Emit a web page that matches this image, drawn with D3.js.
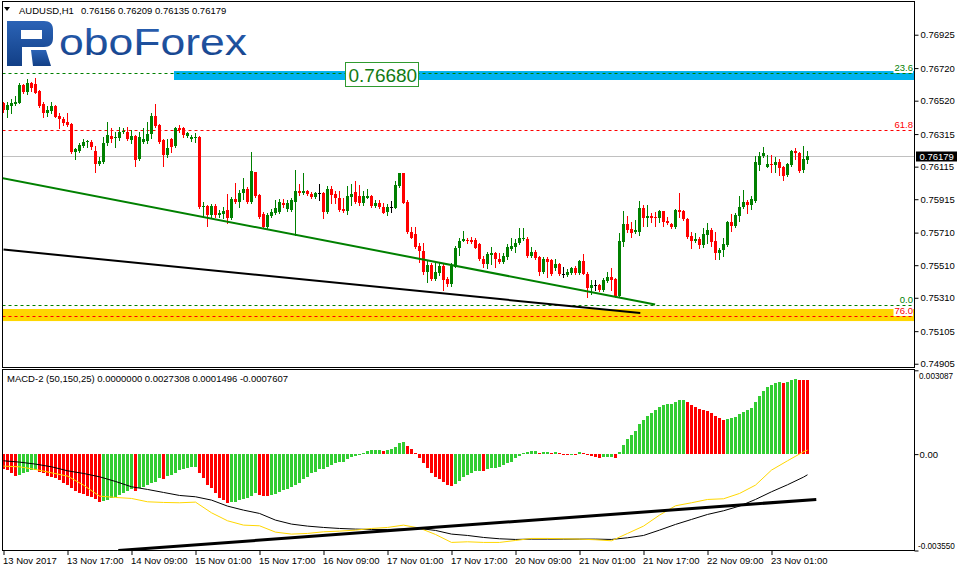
<!DOCTYPE html>
<html>
<head>
<meta charset="utf-8">
<script src="https://cdnjs.cloudflare.com/ajax/libs/d3/7.8.5/d3.min.js"></script>
<style>
  body { margin: 0; background: #fff; }
  svg { display: block; font-family: "Liberation Sans", Arial, sans-serif; }
</style>
</head>
<body>
<svg id="chart" width="957" height="572"></svg>
<script>
/* AUDUSD H1 with MACD-2 sub window */

var symbol = "AUDUSD,H1";

// hourly candles, bar 0 = 13 Nov 2017 00:00
var openP = [
0.76508,0.76463,0.76490,0.76500,0.76508,0.76616,0.76576,0.76627,0.76623,0.76580,
0.76498,0.76447,0.76459,0.76488,0.76426,0.76406,0.76391,0.76375,0.76207,0.76213,
0.76242,0.76266,0.76268,0.76213,0.76131,0.76146,0.76258,0.76303,0.76293,0.76289,
0.76328,0.76330,0.76279,0.76303,0.76160,0.76268,0.76273,0.76316,0.76426,0.76371,
0.76279,0.76187,0.76283,0.76242,0.76350,0.76350,0.76303,0.76283,0.76291,0.76295,
0.75865,0.75873,0.75818,0.75873,0.75818,0.75824,0.75849,0.75802,0.75914,0.75900,
0.75951,0.75978,0.75900,0.76080,0.75941,0.75824,0.75746,0.75812,0.75832,0.75834,
0.75890,0.75853,0.75849,0.75900,0.75965,0.75951,0.75965,0.75947,0.75926,0.75955,
0.75955,0.75838,0.75975,0.75947,0.75920,0.75854,0.75844,0.75930,0.75961,0.75934,
0.75893,0.75924,0.75934,0.75873,0.75893,0.75869,0.75838,0.75865,0.75863,0.75996,
0.76078,0.75899,0.75715,0.75701,0.75627,0.75597,0.75466,0.75511,0.75423,0.75463,
0.75506,0.75423,0.75394,0.75500,0.75613,0.75660,0.75664,0.75664,0.75664,0.75640,
0.75545,0.75517,0.75572,0.75582,0.75551,0.75531,0.75558,0.75609,0.75623,0.75644,
0.75668,0.75670,0.75566,0.75590,0.75562,0.75470,0.75547,0.75541,0.75490,0.75517,
0.75459,0.75449,0.75463,0.75490,0.75463,0.75535,0.75459,0.75367,0.75388,0.75388,
0.75357,0.75414,0.75439,0.75423,0.75320,0.75654,0.75762,0.75732,0.75715,0.75715,
0.75859,0.75801,0.75811,0.75807,0.75801,0.75842,0.75783,0.75762,0.75746,0.75848,
0.75842,0.75793,0.75689,0.75660,0.75670,0.75633,0.75695,0.75726,0.75658,0.75586,
0.75603,0.75633,0.75777,0.75750,0.75811,0.75865,0.75899,0.75879,0.75906,0.76125,
0.76182,0.76114,0.76131,0.76125,0.76145,0.76114,0.76063,0.76125,0.76211,0.76200,
0.76094,0.76156];
var highP = [
0.76514,0.76514,0.76528,0.76549,0.76627,0.76623,0.76651,0.76635,0.76657,0.76586,
0.76514,0.76490,0.76514,0.76494,0.76447,0.76418,0.76442,0.76381,0.76228,0.76258,
0.76283,0.76279,0.76279,0.76242,0.76176,0.76299,0.76391,0.76350,0.76330,0.76361,
0.76350,0.76357,0.76340,0.76309,0.76330,0.76350,0.76391,0.76447,0.76500,0.76377,
0.76283,0.76283,0.76289,0.76361,0.76371,0.76361,0.76330,0.76309,0.76320,0.76303,
0.75900,0.75880,0.75886,0.75886,0.75849,0.75869,0.75945,0.75927,0.76017,0.75972,
0.76043,0.75992,0.76205,0.76084,0.75947,0.75839,0.75828,0.75853,0.75910,0.75914,
0.75914,0.75910,0.75920,0.76094,0.76009,0.76073,0.75971,0.75961,0.75961,0.76008,
0.75961,0.75996,0.75996,0.75967,0.75965,0.75920,0.75996,0.76008,0.76026,0.76002,
0.75965,0.75977,0.75940,0.75910,0.75910,0.75889,0.75883,0.75904,0.76026,0.76078,
0.76078,0.75910,0.75746,0.75746,0.75644,0.75644,0.75541,0.75521,0.75521,0.75531,
0.75517,0.75439,0.75521,0.75627,0.75680,0.75719,0.75678,0.75685,0.75674,0.75644,
0.75566,0.75592,0.75623,0.75592,0.75586,0.75582,0.75640,0.75680,0.75668,0.75736,
0.75740,0.75685,0.75623,0.75603,0.75566,0.75562,0.75562,0.75551,0.75545,0.75521,
0.75496,0.75484,0.75500,0.75504,0.75541,0.75578,0.75470,0.75418,0.75418,0.75392,
0.75429,0.75470,0.75490,0.75429,0.75705,0.75844,0.75811,0.75777,0.75787,0.75904,
0.75879,0.75879,0.75828,0.75838,0.75848,0.75842,0.75807,0.75771,0.75852,0.75951,
0.75848,0.75797,0.75715,0.75705,0.75685,0.75740,0.75766,0.75736,0.75713,0.75613,
0.75678,0.75783,0.75824,0.75828,0.75934,0.75971,0.75910,0.75934,0.76180,0.76207,
0.76233,0.76186,0.76186,0.76172,0.76159,0.76118,0.76139,0.76217,0.76227,0.76207,
0.76241,0.76209];
var lowP = [
0.76453,0.76418,0.76442,0.76494,0.76504,0.76565,0.76559,0.76582,0.76565,0.76483,
0.76422,0.76426,0.76442,0.76418,0.76350,0.76371,0.76367,0.76201,0.76164,0.76207,
0.76234,0.76238,0.76225,0.76084,0.76123,0.76140,0.76248,0.76268,0.76238,0.76279,
0.76320,0.76279,0.76262,0.76119,0.76156,0.76258,0.76258,0.76289,0.76361,0.76262,
0.76119,0.76176,0.76207,0.76234,0.76330,0.76295,0.76295,0.76275,0.76268,0.75859,
0.75808,0.75751,0.75808,0.75808,0.75808,0.75798,0.75767,0.75796,0.75894,0.75869,
0.75914,0.75894,0.75894,0.75931,0.75798,0.75736,0.75736,0.75808,0.75824,0.75828,
0.75869,0.75845,0.75845,0.75695,0.75941,0.75947,0.75940,0.75920,0.75920,0.75910,
0.75801,0.75832,0.75893,0.75889,0.75844,0.75838,0.75824,0.75879,0.75889,0.75879,
0.75879,0.75920,0.75869,0.75865,0.75859,0.75828,0.75818,0.75838,0.75859,0.75992,
0.75889,0.75709,0.75674,0.75613,0.75531,0.75459,0.75408,0.75418,0.75418,0.75449,
0.75357,0.75382,0.75382,0.75496,0.75572,0.75656,0.75648,0.75648,0.75613,0.75541,
0.75500,0.75494,0.75517,0.75500,0.75525,0.75525,0.75551,0.75603,0.75592,0.75640,
0.75664,0.75562,0.75558,0.75551,0.75449,0.75463,0.75435,0.75449,0.75480,0.75449,
0.75435,0.75443,0.75455,0.75455,0.75459,0.75455,0.75316,0.75332,0.75357,0.75353,
0.75353,0.75408,0.75357,0.75316,0.75316,0.75627,0.75715,0.75685,0.75705,0.75695,
0.75750,0.75750,0.75777,0.75750,0.75777,0.75750,0.75762,0.75736,0.75736,0.75807,
0.75787,0.75680,0.75617,0.75654,0.75613,0.75623,0.75644,0.75627,0.75545,0.75545,
0.75568,0.75627,0.75721,0.75746,0.75783,0.75859,0.75832,0.75852,0.75899,0.76094,
0.76176,0.76114,0.76084,0.76084,0.76063,0.76033,0.76057,0.76118,0.76159,0.76084,
0.76084,0.76135];
var closeP = [
0.76463,0.76494,0.76508,0.76514,0.76616,0.76576,0.76627,0.76596,0.76569,0.76490,
0.76447,0.76463,0.76488,0.76422,0.76406,0.76381,0.76371,0.76207,0.76221,0.76248,
0.76268,0.76270,0.76234,0.76131,0.76150,0.76262,0.76309,0.76283,0.76299,0.76330,
0.76334,0.76283,0.76303,0.76156,0.76299,0.76285,0.76316,0.76426,0.76365,0.76268,
0.76187,0.76228,0.76234,0.76350,0.76340,0.76309,0.76320,0.76299,0.76295,0.75869,
0.75873,0.75818,0.75873,0.75818,0.75828,0.75845,0.75802,0.75914,0.75900,0.75955,
0.75978,0.75900,0.76088,0.75935,0.75808,0.75746,0.75818,0.75839,0.75859,0.75900,
0.75880,0.75890,0.75910,0.75965,0.75951,0.75965,0.75947,0.75930,0.75955,0.75955,
0.75838,0.75975,0.75940,0.75920,0.75848,0.75844,0.75934,0.75947,0.75899,0.75893,
0.75934,0.75934,0.75873,0.75889,0.75865,0.75832,0.75865,0.75865,0.76002,0.76078,
0.75893,0.75715,0.75680,0.75623,0.75599,0.75466,0.75511,0.75423,0.75470,0.75504,
0.75418,0.75394,0.75506,0.75617,0.75660,0.75670,0.75660,0.75654,0.75617,0.75545,
0.75517,0.75578,0.75586,0.75551,0.75531,0.75566,0.75619,0.75629,0.75648,0.75680,
0.75680,0.75568,0.75590,0.75556,0.75470,0.75547,0.75531,0.75455,0.75517,0.75455,
0.75459,0.75470,0.75490,0.75463,0.75535,0.75459,0.75367,0.75388,0.75388,0.75357,
0.75418,0.75439,0.75418,0.75320,0.75658,0.75762,0.75726,0.75709,0.75726,0.75859,
0.75801,0.75811,0.75801,0.75801,0.75842,0.75777,0.75771,0.75746,0.75848,0.75838,
0.75791,0.75685,0.75660,0.75670,0.75637,0.75701,0.75726,0.75654,0.75586,0.75603,
0.75640,0.75777,0.75750,0.75818,0.75869,0.75899,0.75879,0.75916,0.76145,0.76182,
0.76200,0.76131,0.76127,0.76145,0.76108,0.76057,0.76131,0.76211,0.76196,0.76088,
0.76161,0.76179];

// right price scale labels
var priceTicks = [0.76925, 0.76720, 0.76520, 0.76315, 0.76115, 0.75915, 0.75710, 0.75510, 0.75310, 0.75105, 0.74905];

// time axis: a label every 16 bars
var timeBars = [0, 16, 32, 48, 64, 80, 96, 112, 128, 144, 160, 176, 192];
var timeLabels = ["13 Nov 2017", "13 Nov 17:00", "14 Nov 09:00", "15 Nov 01:00", "15 Nov 17:00", "16 Nov 09:00",
                  "17 Nov 01:00", "17 Nov 17:00", "20 Nov 09:00", "21 Nov 01:00", "21 Nov 17:00", "22 Nov 09:00", "23 Nov 01:00"];

// fibo levels drawn on the chart
var fibNames = ["23.6", "61.8", "0.0", "76.0"];
var fibPrices = [0.76684, 0.76334, 0.75265, 0.75198];

// zones
var blueZone = [0.76647, 0.76702];
var blueZoneStart = 43;
var blueZoneLabel = "0.76680";
var blueZoneLabelBar = 85.4;
var goldZone = [0.75167, 0.75241];

// trend lines [bar, price]
var greenTrend = [[-0.3, 0.76045], [162.9, 0.75269]];
var blackTrend = [[0, 0.75606], [159.2, 0.75216]];

// MACD-2 histogram, one value per bar
var macdHist = [
-0.000565,-0.000589,-0.000712,-0.000810,-0.000773,-0.000712,-0.000651,-0.000589,-0.000589,-0.000651,
-0.000712,-0.000810,-0.000859,-0.000896,-0.000958,-0.001056,-0.001142,-0.001265,-0.001350,-0.001424,
-0.001473,-0.001547,-0.001571,-0.001670,-0.001756,-0.001731,-0.001694,-0.001608,-0.001571,-0.001510,
-0.001424,-0.001350,-0.001301,-0.001350,-0.001265,-0.001203,-0.001142,-0.001080,-0.001019,-0.000896,
-0.000921,-0.000810,-0.000773,-0.000712,-0.000589,-0.000552,-0.000503,-0.000491,-0.000467,-0.000712,
-0.000896,-0.001142,-0.001265,-0.001449,-0.001633,-0.001694,-0.001792,-0.001768,-0.001756,-0.001694,
-0.001670,-0.001633,-0.001547,-0.001449,-0.001510,-0.001547,-0.001547,-0.001510,-0.001473,-0.001387,
-0.001326,-0.001301,-0.001228,-0.001142,-0.001056,-0.000933,-0.000835,-0.000712,-0.000651,-0.000565,
-0.000540,-0.000467,-0.000405,-0.000319,-0.000282,-0.000282,-0.000196,-0.000123,-0.000074,-0.000037,
0.000049,0.000123,0.000147,0.000147,0.000147,0.000110,0.000147,0.000196,0.000270,0.000417,
0.000454,0.000295,0.000172,0.000025,-0.000135,-0.000344,-0.000528,-0.000688,-0.000835,-0.000908,
-0.001019,-0.001142,-0.001179,-0.001105,-0.000994,-0.000859,-0.000773,-0.000688,-0.000614,-0.000614,
-0.000626,-0.000565,-0.000503,-0.000503,-0.000467,-0.000417,-0.000344,-0.000282,-0.000160,-0.000074,
0.000025,0.000074,0.000110,0.000110,0.000025,0.000074,0.000074,0.000049,0.000061,0.000025,
-0.000025,-0.000037,-0.000012,-0.000025,0.000074,0.000025,-0.000037,-0.000074,-0.000098,-0.000147,
-0.000123,-0.000098,-0.000098,-0.000147,0.000086,0.000331,0.000552,0.000700,0.000847,0.001105,
0.001252,0.001400,0.001522,0.001621,0.001743,0.001805,0.001829,0.001842,0.001915,0.001977,
0.002001,0.001915,0.001805,0.001719,0.001645,0.001621,0.001584,0.001498,0.001400,0.001314,
0.001252,0.001289,0.001314,0.001375,0.001473,0.001547,0.001621,0.001707,0.001915,0.002136,
0.002320,0.002480,0.002554,0.002627,0.002652,0.002627,0.002664,0.002725,0.002762,0.002740,
0.002735,0.002731];

// MACD lines, read every 4th bar plus the last one
var macdLineBars = d3.range(0, 201, 4).concat([201]);
var macdSignal = [
-0.000442,-0.000467,-0.000565,-0.000688,-0.000810,-0.001142,-0.001547,-0.001596,-0.001633,-0.001756,
-0.001780,-0.001792,-0.001768,-0.002161,-0.002455,-0.002615,-0.002640,-0.002873,-0.002946,-0.002922,
-0.002861,-0.002836,-0.002799,-0.002738,-0.002701,-0.002615,-0.002725,-0.002959,-0.003253,-0.003229,
-0.003253,-0.003253,-0.003180,-0.003106,-0.003106,-0.003118,-0.003131,-0.003155,-0.003192,-0.002922,
-0.002652,-0.002247,-0.001903,-0.001792,-0.001670,-0.001645,-0.001449,-0.001142,-0.000589,-0.000246,
0.000086,0.0001496];
var macdMain = [
-0.000246,-0.000295,-0.000368,-0.000467,-0.000614,-0.000712,-0.000835,-0.001007,-0.001203,-0.001301,
-0.001412,-0.001522,-0.001571,-0.001694,-0.001915,-0.002063,-0.002185,-0.002431,-0.002578,-0.002652,
-0.002701,-0.002738,-0.002762,-0.002775,-0.002775,-0.002762,-0.002738,-0.002811,-0.002946,-0.002996,
-0.003069,-0.003118,-0.003143,-0.003131,-0.003131,-0.003131,-0.003131,-0.003131,-0.003143,-0.003082,
-0.002996,-0.002799,-0.002590,-0.002406,-0.002222,-0.002087,-0.001915,-0.001670,-0.001387,-0.001129,
-0.000847,-0.0007607];
var macdTrend = [[28.7, -0.00355], [203.2, -0.001668]];
var macdTicks = [0.003087, 0, -0.003550];
var macdTitle = "MACD-2 (50,150,25)";
var macdLast = [0.0000000, 0.0027308, 0.0001496, -0.0007607];

var GREEN = "#008000", RED = "#ff0000", HGREEN = "#32cd32";

var svg = d3.select("#chart");
var left = 2.5, right = 914.5, mainTop = 1.5, mainBottom = 367.5, macdTop = 369.5, macdBottom = 550.5;

var x = d3.scaleLinear().domain([0, openP.length - 1]).range([3.5, 3.5 + 4 * (openP.length - 1)]);
var y = d3.scaleLinear().domain([0.74885, 0.77132]).range([367, 1]);
var ym = d3.scaleLinear().domain([-0.00355, 0.003087]).range([550.5, 370.3]);

function crisp(v) { return Math.round(v - 0.5) + 0.5; }

var defs = svg.append("defs");
defs.append("clipPath").attr("id", "clipMain").append("rect")
    .attr("x", 3).attr("y", 2).attr("width", right - 3).attr("height", mainBottom - 2.5);
defs.append("clipPath").attr("id", "clipMacd").append("rect")
    .attr("x", 3).attr("y", macdTop + 0.5).attr("width", right - 3).attr("height", macdBottom - macdTop - 1);
var grad = defs.append("linearGradient").attr("id", "logoGrad").attr("x1", 0).attr("y1", 0).attr("x2", 0).attr("y2", 1);
grad.append("stop").attr("offset", "0%").attr("stop-color", "#2b63b6");
grad.append("stop").attr("offset", "100%").attr("stop-color", "#123f86");

var main = svg.append("g").attr("clip-path", "url(#clipMain)");

//zones first so everything else sits on top
main.append("rect")
    .attr("x", x(blueZoneStart) - 1.5).attr("y", y(blueZone[1]))
    .attr("width", right - x(blueZoneStart) + 1.5).attr("height", y(blueZone[0]) - y(blueZone[1]))
    .attr("fill", "#00b2ee");
main.append("rect")
    .attr("x", left).attr("y", y(goldZone[1]))
    .attr("width", right - left).attr("height", y(goldZone[0]) - y(goldZone[1]))
    .attr("fill", "#ffd700");

// fibo level lines
fibPrices.forEach(function (p, i) {
    var col = (i % 2 == 0) ? GREEN : RED;
    var ly = crisp(y(p));
    main.append("line").attr("x1", left).attr("x2", right).attr("y1", ly).attr("y2", ly)
        .attr("stroke", col).attr("stroke-dasharray", "3,3");
});

// current price line
var lastClose = closeP[closeP.length - 1];
main.append("line").attr("x1", left).attr("x2", right)
    .attr("y1", crisp(y(lastClose))).attr("y2", crisp(y(lastClose)))
    .attr("stroke", "#c0c0c0");

// candles
var bars = openP.map(function (o, i) {
    return {i: i, o: o, h: highP[i], l: lowP[i], c: closeP[i]};
});
function candleColor(d) { return d.c > d.o ? GREEN : (d.c < d.o ? RED : "#000"); }

var cg = main.append("g");
cg.selectAll("line.wick").data(bars).enter().append("line")
    .attr("class", "wick")
    .attr("x1", function (d) { return x(d.i); })
    .attr("x2", function (d) { return x(d.i); })
    .attr("y1", function (d) { return Math.round(y(d.h)); })
    .attr("y2", function (d) { return Math.round(y(d.l)) + 1; })
    .attr("stroke", candleColor);
cg.selectAll("rect.body").data(bars).enter().append("rect")
    .attr("class", "body")
    .attr("x", function (d) { return x(d.i) - 1.5; })
    .attr("y", function (d) { return Math.round(y(Math.max(d.o, d.c))); })
    .attr("width", 3)
    .attr("height", function (d) {
        return Math.max(1, Math.round(y(Math.min(d.o, d.c))) - Math.round(y(Math.max(d.o, d.c))));
    })
    .attr("fill", candleColor);

// trend lines
var priceLine = d3.line().x(function (d) { return x(d[0]); }).y(function (d) { return y(d[1]); });
main.append("path").attr("d", priceLine(greenTrend)).attr("fill", "none").attr("stroke", GREEN).attr("stroke-width", 2);
main.append("path").attr("d", priceLine(blackTrend)).attr("fill", "none").attr("stroke", "#000").attr("stroke-width", 2);

// fibo captions, with a white patch behind like the terminal does
fibPrices.forEach(function (p, i) {
    var col = (i % 2 == 0) ? GREEN : RED;
    var t = main.append("text").attr("x", right - 1.5).attr("y", crisp(y(p)) - 2.5)
        .attr("text-anchor", "end").attr("font-size", 9.5).attr("fill", col).text(fibNames[i]);
    var bb = t.node().getBBox();
    main.insert("rect", function () { return t.node(); })
        .attr("x", bb.x - 1).attr("y", bb.y + 1).attr("width", bb.width + 1).attr("height", bb.height - 1)
        .attr("fill", "#fff");
});

// zone price tag
var tagY = y(0.76680);
var tagX = crisp(x(blueZoneLabelBar));
main.append("rect").attr("x", tagX).attr("y", crisp(tagY - 12.5))
    .attr("width", 73).attr("height", 24).attr("fill", "#fff").attr("stroke", "#2f9a2f");
main.append("text").attr("x", tagX + 3).attr("y", tagY + 7)
    .attr("font-size", 19).attr("fill", "#127a12").text(blueZoneLabel);

// ---- MACD window ----
var sub = svg.append("g").attr("clip-path", "url(#clipMacd)");
var prevCol = RED;
var histData = macdHist.map(function (v, i) {
    var prev = (i > 0) ? macdHist[i - 1] : Infinity;
    var col = v > prev ? HGREEN : (v < prev ? RED : prevCol);
    prevCol = col;
    return {i: i, v: v, col: col};
});
var zeroY = Math.round(ym(0));
sub.selectAll("rect.hist").data(histData).enter().append("rect")
    .attr("class", "hist")
    .attr("x", function (d) { return x(d.i) - 1.5; })
    .attr("y", function (d) { return Math.min(zeroY, Math.round(ym(d.v))); })
    .attr("width", 3)
    .attr("height", function (d) { return Math.max(1, Math.abs(Math.round(ym(d.v)) - zeroY)); })
    .attr("fill", function (d) { return d.col; });

var macdLine = d3.line()
    .x(function (d, i) { return x(macdLineBars[i]); })
    .y(function (d) { return ym(d); });
sub.append("path").attr("d", macdLine(macdMain)).attr("fill", "none").attr("stroke", "#000").attr("stroke-width", 1);
sub.append("path").attr("d", macdLine(macdSignal)).attr("fill", "none").attr("stroke", "#ffd700").attr("stroke-width", 1);

var trendM = d3.line().x(function (d) { return x(d[0]); }).y(function (d) { return ym(d[1]); });
sub.append("path").attr("d", trendM(macdTrend)).attr("fill", "none").attr("stroke", "#000").attr("stroke-width", 3);

// ---- frames ----
var frame = svg.append("g").attr("fill", "none").attr("stroke", "#000");
frame.append("rect").attr("x", left).attr("y", mainTop).attr("width", right - left).attr("height", mainBottom - mainTop);
frame.append("rect").attr("x", left).attr("y", macdTop).attr("width", right - left).attr("height", macdBottom - macdTop);

// ---- axes ----
var fontFam = "'Liberation Sans', Arial, sans-serif";

var yAxis = d3.axisRight(y).tickValues(priceTicks).tickSize(4).tickPadding(2)
    .tickFormat(function (d) { return d.toFixed(5); });
var ya = svg.append("g").attr("transform", "translate(" + right + ",0)").call(yAxis);
ya.select(".domain").remove();
ya.attr("font-size", 9.5).attr("font-family", fontFam);

// last price tag
var lastY = crisp(y(lastClose));
svg.append("rect").attr("x", 916).attr("y", lastY - 5).attr("width", 41).attr("height", 10).attr("fill", "#000");
svg.append("text").attr("x", 919.5).attr("y", lastY + 3.5).attr("font-size", 9.5).attr("fill", "#fff")
    .text(lastClose.toFixed(5));

var mAxis = d3.axisRight(ym).tickValues(macdTicks).tickSize(4).tickPadding(1)
    .tickFormat(function (d) { return d === 0 ? "0.00" : d.toFixed(6); });
var ma = svg.append("g").attr("transform", "translate(" + right + ",0)").call(mAxis);
ma.select(".domain").remove();
ma.attr("font-size", 9.5).attr("font-family", fontFam);
ma.selectAll(".tick text").attr("dy", function (d) {
    if (d === macdTicks[0]) return "1.05em";
    if (d === macdTicks[2]) return "-0.25em";
    return "0.32em";
});
// the long end labels get a smaller size so they stay inside the window
ma.selectAll(".tick text").filter(function (d) { return d !== 0; })
    .attr("font-size", 8.2)
    .attr("x", function (d) { return d < 0 ? 3.5 : 4.5; });

var xAxis = d3.axisBottom(x).tickValues(timeBars).tickSize(4)
    .tickFormat(function (d, i) { return timeLabels[i]; });
var xa = svg.append("g").attr("transform", "translate(0," + (macdBottom + 0.5) + ")").call(xAxis);
xa.select(".domain").remove();
xa.attr("font-size", 9.5).attr("font-family", fontFam);
xa.selectAll(".tick text").attr("text-anchor", "start").attr("x", -1).attr("y", 6);

// ---- captions ----
svg.append("path").attr("d", "M4,7 L10,7 L7,11 Z").attr("fill", "#000");
svg.append("text").attr("x", 19).attr("y", 13.5).attr("font-size", 9.5).text(symbol);
var last = bars[bars.length - 1];
svg.append("text").attr("x", 81).attr("y", 13.5).attr("font-size", 9.5)
    .text([last.o, last.h, last.l, last.c].map(function (v) { return v.toFixed(5); }).join(" "));

svg.append("text").attr("x", 7).attr("y", 381.5).attr("font-size", 9.5)
    .text(macdTitle + " " + macdLast.map(function (v) { return v.toFixed(7); }).join(" "));

// broker logo
var logo = svg.append("g");
logo.append("path")
    .attr("d", "M7,21 H44 C50,21 53,24 53,30 V38 C53,44 50,47 44,47 H22 V66 H7 Z M21,30 H42 V39 H21 Z")
    .attr("fill-rule", "evenodd").attr("fill", "url(#logoGrad)");
logo.append("path").attr("d", "M31,50 H46 L51,66 H33 Z").attr("fill", "url(#logoGrad)");
logo.append("text").attr("x", 59).attr("y", 55).attr("font-size", 36)
    .attr("textLength", 188).attr("lengthAdjust", "spacingAndGlyphs")
    .attr("fill", "url(#logoGrad)").text("oboForex");
</script>
</body>
</html>
